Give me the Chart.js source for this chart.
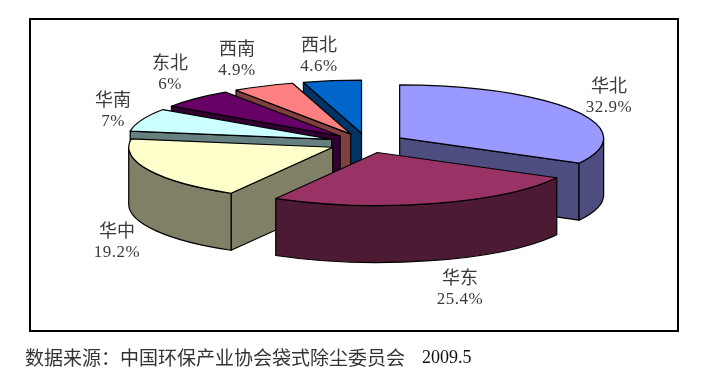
<!DOCTYPE html>
<html>
<head>
<meta charset="utf-8">
<style>
html,body{margin:0;padding:0;background:#fff;}
#wrap{position:relative;width:706px;height:377px;}
</style>
<script src="https://cdn.jsdelivr.net/npm/chart.js@4"></script>
</head>
<body>
<div id="wrap"><canvas id="c" width="706" height="377"></canvas></div>
<script>
const categories = ['华北','华东','华中','华南','东北','西南','西北'];
const shares = [32.9,25.4,19.2,7,6,4.9,4.6];
const topColors = ['#9999FF','#993366','#FFFFCC','#CCFFFF','#660066','#FF8080','#0066CC'];
const wallColors = ['#4D4D80','#4D1A33','#808066','#668080','#330033','#804040','#003366'];
const paintOrder = [6,5,4,3,2,0,1];
const labelAnchors = [[609,85],[460,277],[117,230],[113,99],[170,62],[237,48],[319,44]];
const sourceText = '数据来源：中国环保产业协会袋式除尘委员会';
const sourceDate = '2009.5';
const TILT = 0.26, DEPTH = 57, EXPLODE = 38;

const pie3d = {
  id:'pie3d',
  beforeDraw(chart){
    const ctx = chart.ctx;
    ctx.save();
    ctx.fillStyle = '#fff';
    ctx.fillRect(0,0,chart.width,chart.height);
    ctx.strokeStyle = '#000';
    ctx.lineWidth = 2;
    ctx.strokeRect(30,19,648,312);
    ctx.restore();
  },
  beforeDatasetsDraw(chart){
    const ctx = chart.ctx;
    const arcs = chart.getDatasetMeta(0).data;
    const outline = () => {
      ctx.strokeStyle = '#000';
      ctx.lineWidth = 1.2;
      ctx.lineJoin = 'round';
      ctx.stroke();
    };
    paintOrder.forEach(i => {
      const a = arcs[i];
      const mid = (a.startAngle + a.endAngle)/2;
      const ox = Math.cos(mid)*EXPLODE, oy = Math.sin(mid)*EXPLODE;
      const tx = a.x + ox, ty = a.y + oy*TILT;
      const r = a.outerRadius, ry = r*TILT;
      ctx.save();
      ctx.fillStyle = wallColors[i];
      // visible radial walls
      const wall = ang => {
        const px = tx + Math.cos(ang)*r, py = ty + Math.sin(ang)*ry;
        ctx.beginPath();
        ctx.moveTo(tx,ty);
        ctx.lineTo(px,py);
        ctx.lineTo(px,py+DEPTH);
        ctx.lineTo(tx,ty+DEPTH);
        ctx.closePath();
        ctx.fill();
        outline();
      };
      if (Math.cos(a.startAngle) < 0) wall(a.startAngle);
      if (Math.cos(a.endAngle) > 0) wall(a.endAngle);
      // outer rim on the front half
      const a0 = Math.max(a.startAngle,0), a1 = Math.min(a.endAngle,Math.PI);
      if (a1 > a0){
        ctx.beginPath();
        ctx.ellipse(tx,ty,r,ry,0,a0,a1);
        ctx.ellipse(tx,ty+DEPTH,r,ry,0,a1,a0,true);
        ctx.closePath();
        ctx.fill();
        outline();
      }
      ctx.restore();
      // top face, drawn by the library's arc element
      ctx.save();
      ctx.translate(a.x,a.y);
      ctx.scale(1,TILT);
      ctx.translate(-a.x,-a.y);
      ctx.translate(ox,oy);
      a.draw(ctx);
      ctx.restore();
      ctx.save();
      ctx.beginPath();
      ctx.moveTo(tx,ty);
      ctx.ellipse(tx,ty,r,ry,0,a.startAngle,a.endAngle);
      ctx.closePath();
      outline();
      ctx.restore();
    });
    return false;
  },
  afterDraw(chart){
    const ctx = chart.ctx;
    ctx.save();
    ctx.textBaseline = 'middle';
    ctx.textAlign = 'center';
    ctx.fillStyle = '#3a3a3a';
    categories.forEach((name,i) => {
      const [x,y] = labelAnchors[i];
      ctx.font = '18px "Noto Sans CJK SC"';
      ctx.letterSpacing = '0px';
      ctx.fillText(name,x,y);
      ctx.font = '17px "Liberation Serif"';
      ctx.letterSpacing = '0.5px';
      ctx.fillText(shares[i]+'%',x,y+23);
    });
    ctx.letterSpacing = '0px';
    ctx.textAlign = 'left';
    ctx.fillStyle = '#333';
    ctx.font = '19px "Noto Sans CJK SC"';
    ctx.fillText(sourceText,25,358);
    ctx.fillStyle = '#111';
    ctx.font = '18px "Liberation Serif"';
    ctx.fillText(sourceDate,422,358);
    ctx.restore();
  }
};

new Chart(document.getElementById('c'),{
  type:'pie',
  data:{labels:categories,datasets:[{data:shares,backgroundColor:topColors,borderWidth:0}]},
  options:{
    responsive:false,
    animation:false,
    radius:204,
    layout:{padding:{left:28,right:0,top:0,bottom:91}},
    plugins:{legend:{display:false},tooltip:{enabled:false},title:{display:false}},
    events:[]
  },
  plugins:[pie3d]
});
</script>
</body>
</html>
